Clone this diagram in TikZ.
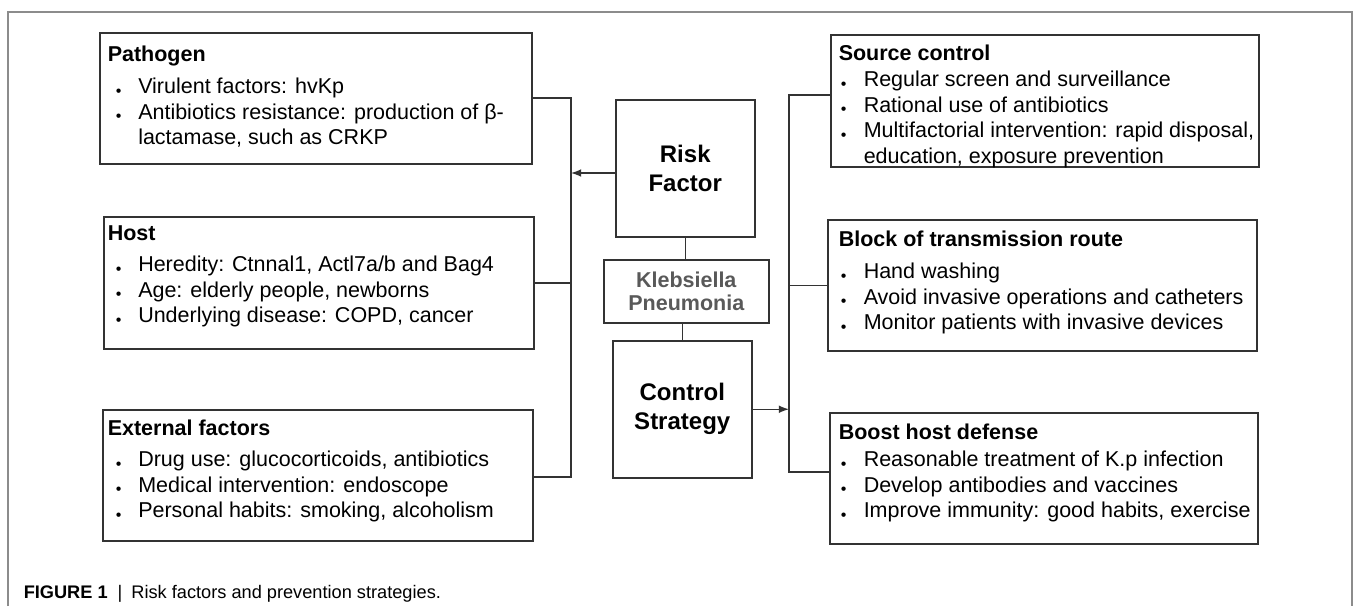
\documentclass[tikz,border=0pt]{standalone}
\usepackage{fontspec}
\setmainfont{Liberation Sans}
\newcommand{\lbul}{\hspace*{5.5pt}\makebox[0pt]{\raisebox{-1.2pt}{\footnotesize\textbullet}}\hspace*{9.75pt}}
\newcommand{\rbul}{\hspace*{2.5pt}\makebox[0pt]{\raisebox{-1.2pt}{\footnotesize\textbullet}}\hspace*{10pt}}
\newcommand{\lcont}{\hspace*{15.25pt}}
\newcommand{\rcont}{\hspace*{12.5pt}}
\begin{document}
\begin{tikzpicture}[x=0.5pt,y=-0.5pt,>=latex,line width=0.75pt,
  box/.style={draw=black!80,anchor=north west,inner sep=0pt},
  txt/.style={anchor=north west,align=left,inner sep=0pt,font=\fontsize{10.75}{12.75}\selectfont},
  mid/.style={align=center,inner sep=0pt,font=\bfseries\fontsize{12}{14.5}\selectfont}]

\useasboundingbox (0,0) rectangle (1354,606);
\draw [black!45] (8,606) -- (8,12) -- (1352,12) -- (1352,606);

\node (path) at (99,32) [box,minimum width=216pt,minimum height=65.5pt] {};
\node (host) at (103,216) [box,minimum width=215pt,minimum height=66pt] {};
\node (ext) at (102,409) [box,minimum width=215pt,minimum height=65.5pt] {};

\node (src) at (830,34) [box,minimum width=214pt,minimum height=66pt] {};
\node (blk) at (827,219) [box,minimum width=214.5pt,minimum height=65.5pt] {};
\node (bst) at (829,412) [box,minimum width=214pt,minimum height=65.5pt] {};

\node (risk) at (615,99) [box,minimum width=69.5pt,minimum height=68.5pt] {};
\node (kp) at (603,259) [box,minimum width=82.5pt,minimum height=31.5pt] {};
\node (ctrl) at (612,340) [box,minimum width=69.5pt,minimum height=68.5pt] {};

\coordinate (lbtop) at (571,98);
\coordinate (lbbot) at (571,477);
\coordinate (lbarr) at (571,173);
\coordinate (rbtop) at (789,95);
\coordinate (rbbot) at (789,472);

\path [draw=black!80]
    (path.east |- lbtop) -- (lbtop) -- (lbbot) -- (ext.east |- lbbot)
    (host.east) -- (host.east -| lbtop)
    (src.west |- rbtop) -- (rbtop) -- (rbbot) -- (bst.west |- rbbot)
    (blk.west) -- (blk.west -| rbtop)
    (risk.south) -- (risk.south |- kp.north)
    (ctrl.north) -- (ctrl.north |- kp.south)
;
\path [->,color=black!80]
    (risk.west |- lbarr) edge (lbarr)
    (ctrl.east) edge (ctrl.east -| rbtop)
;

\node (risktxt) [mid] at (risk) {Risk\\Factor};
\node (kptxt) [mid,text=black!65,font=\bfseries\fontsize{10.75}{11.5}\selectfont] at (kp) {Klebsiella\\Pneumonia};
\node (ctrltxt) [mid] at (ctrl) {Control\\Strategy};

\node (pathtxt) [txt] at (107,45.3) {\textbf{Pathogen}\\[3.25pt]
  \lbul Virulent factors: hvKp\\
  \lbul Antibiotics resistance: production of β-\\
  \lcont lactamase, such as CRKP};
\node (hosttxt) [txt] at (107,225.3) {\textbf{Host}\\[2.75pt]
  \lbul Heredity: Ctnnal1, Actl7a/b and Bag4\\
  \lbul Age: elderly people, newborns\\
  \lbul Underlying disease: COPD, cancer};
\node (exttxt) [txt] at (107,419.3) {\textbf{External factors}\\[2.75pt]
  \lbul Drug use: glucocorticoids, antibiotics\\
  \lbul Medical intervention: endoscope\\
  \lbul Personal habits: smoking, alcoholism};

\node (srctxt) [txt] at (838,44.3) {\textbf{Source control}\\[0.25pt]
  \rbul Regular screen and surveillance\\
  \rbul Rational use of antibiotics\\
  \rbul Multifactorial intervention: rapid disposal,\\
  \rcont education, exposure prevention};
\node (blktxt) [txt] at (838,230.3) {\textbf{Block of transmission route}\\[3.25pt]
  \rbul Hand washing\\
  \rbul Avoid invasive operations and catheters\\
  \rbul Monitor patients with invasive devices};
\node (bsttxt) [txt] at (838,423.3) {\textbf{Boost host defense}\\[0.75pt]
  \rbul Reasonable treatment of K.p infection\\
  \rbul Develop antibodies and vaccines\\
  \rbul Improve immunity: good habits, exercise};

\node (cap) at (23,598) [anchor=base west,inner sep=0pt,font=\fontsize{9.1}{11}\selectfont]
  {\textbf{FIGURE 1}\hspace{5pt}|\hspace{4.5pt}Risk factors and prevention strategies.};

\end{tikzpicture}
\end{document}
